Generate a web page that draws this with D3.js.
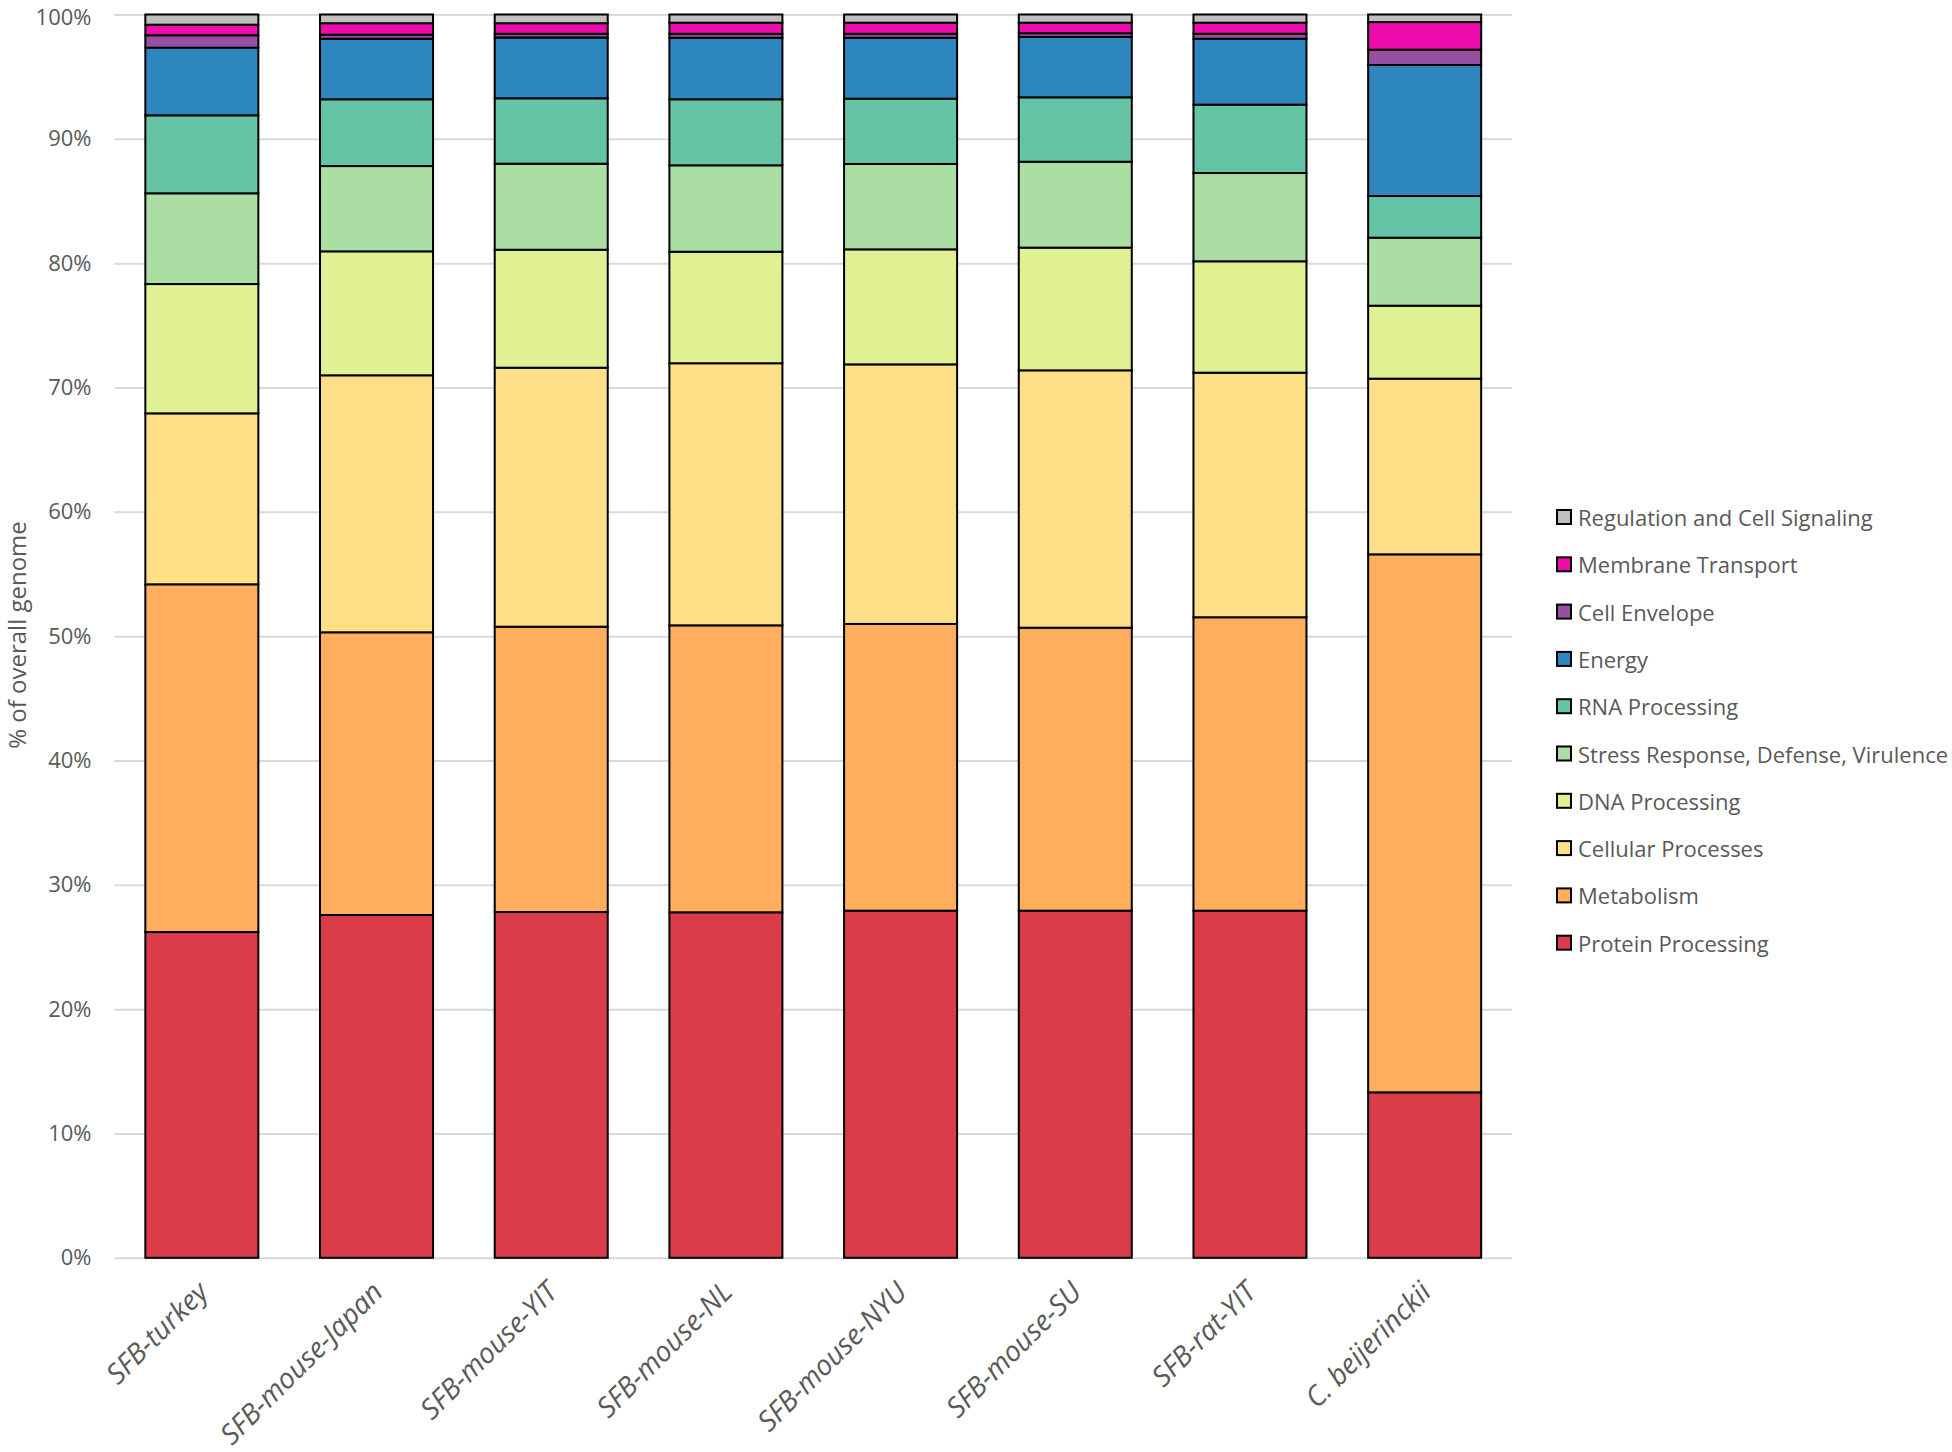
<!DOCTYPE html>
<html>
<head>
<meta charset="utf-8">
<script src="https://cdn.jsdelivr.net/npm/d3@7"></script>
<style>
  html, body { margin: 0; padding: 0; background: #fff; }
  svg { display: block; }
  text { font-family: "Open Sans", "Noto Sans", sans-serif; fill: #595959; }
</style>
</head>
<body>
<svg id="chart" width="1952" height="1452"></svg>
<script>
const categories = ["SFB-turkey", "SFB-mouse-Japan", "SFB-mouse-YIT", "SFB-mouse-NL", "SFB-mouse-NYU", "SFB-mouse-SU", "SFB-rat-YIT", "C. beijerinckii"];

const seriesNames = ["Protein Processing", "Metabolism", "Cellular Processes", "DNA Processing",
  "Stress Response, Defense, Virulence", "RNA Processing", "Energy", "Cell Envelope",
  "Membrane Transport", "Regulation and Cell Signaling"];

const proteinProcessing   = [26.20, 27.57, 27.81, 27.79, 27.92, 27.92, 27.92, 13.31];
const metabolism          = [27.97, 22.74, 22.95, 23.08, 23.06, 22.76, 23.60, 43.27];
const cellularProcesses   = [13.75, 20.67, 20.83, 21.08, 20.88, 20.70, 19.67, 14.13];
const dnaProcessing       = [10.40,  9.97,  9.49,  8.97,  9.25,  9.87,  8.96,  5.87];
const stressResponse      = [ 7.30,  6.86,  6.92,  6.95,  6.87,  6.91,  7.10,  5.47];
const rnaProcessing       = [ 6.27,  5.37,  5.26,  5.31,  5.25,  5.18,  5.50,  3.35];
const energy              = [ 5.44,  4.87,  4.89,  4.95,  4.90,  4.86,  5.30, 10.54];
const cellEnvelope        = [ 1.00,  0.33,  0.30,  0.32,  0.32,  0.30,  0.40,  1.23];
const membraneTransport   = [ 0.85,  0.92,  0.85,  0.89,  0.89,  0.84,  0.89,  2.22];
const regulationSignaling = [ 0.82,  0.70,  0.70,  0.66,  0.66,  0.66,  0.66,  0.61];

const yTicks = [0, 10, 20, 30, 40, 50, 60, 70, 80, 90, 100];

const seriesColors = ["#DA3C4A", "#FEAE5C", "#FDDF88", "#E0F193", "#ABDEA2",
  "#64C4A5", "#2E86BE", "#974FA2", "#EE0DAC", "#BFBFBF"];

const seriesValues = [proteinProcessing, metabolism, cellularProcesses, dnaProcessing,
  stressResponse, rnaProcessing, energy, cellEnvelope, membraneTransport, regulationSignaling];

// build table for d3.stack
const table = categories.map((c, i) => {
  const row = { category: c };
  seriesNames.forEach((s, j) => { row[s] = seriesValues[j][i]; });
  return row;
});

const svg = d3.select("#chart");
const plot = { left: 114.5, right: 1512, top: 14.5, bottom: 1257.8 };

const x = d3.scaleBand()
  .domain(categories)
  .range([plot.left, plot.right])
  .paddingInner(0.353)
  .paddingOuter(0.1765);

const y = d3.scaleLinear().domain([0, 100]).range([plot.bottom, plot.top]);

const color = d3.scaleOrdinal().domain(seriesNames).range(seriesColors);

// gridlines + y axis labels
const yAxis = d3.axisLeft(y)
  .tickValues(yTicks)
  .tickFormat(d => d + "%")
  .tickSize(-(plot.right - plot.left))
  .tickPadding(23);

const gy = svg.append("g")
  .attr("transform", `translate(${plot.left},0)`)
  .call(yAxis);
gy.select(".domain").remove();
gy.selectAll(".tick line").attr("stroke", "#D9D9D9").attr("stroke-width", 2);
gy.selectAll(".tick text")
  .attr("font-size", 22)
  .attr("fill", "#595959")
  .attr("y", d => d === 100 ? 3 : 0)
  .style("font-family", '"Open Sans", "Noto Sans", sans-serif');

// stacked bars
const stack = d3.stack().keys(seriesNames);
const stacked = stack(table);

svg.append("g")
  .selectAll("g")
  .data(stacked)
  .join("g")
  .attr("fill", d => color(d.key))
  .selectAll("rect")
  .data(d => d)
  .join("rect")
  .attr("x", d => x(d.data.category))
  .attr("width", x.bandwidth())
  .attr("y", d => y(d[1]))
  .attr("height", d => y(d[0]) - y(d[1]))
  .attr("stroke", "#000")
  .attr("stroke-width", 2);

// x axis labels (rotated, italic)
const gx = svg.append("g")
  .attr("transform", `translate(0,${plot.bottom})`)
  .call(d3.axisBottom(x).tickSize(0).tickPadding(0));
gx.select(".domain").remove();
gx.selectAll(".tick text")
  .attr("font-size", 28)
  .attr("font-style", "italic")
  .attr("fill", "#595959")
  .attr("text-anchor", "end")
  .attr("dy", null)
  .attr("y", null)
  .attr("transform", "translate(8,36) rotate(-45)")
  .style("font-family", '"Open Sans", "Noto Sans", sans-serif');

// y axis title
svg.append("text")
  .attr("transform", `translate(26,635) rotate(-90)`)
  .attr("text-anchor", "middle")
  .attr("font-size", 24)
  .attr("fill", "#595959")
  .text("% of overall genome");

// legend (reverse order, top = last series)
const legendNames = seriesNames.slice().reverse();
const legend = svg.append("g").attr("transform", "translate(1557,517)");
const items = legend.selectAll("g")
  .data(legendNames)
  .join("g")
  .attr("transform", (d, i) => `translate(0,${i * 47.3})`);
items.append("rect")
  .attr("x", 0).attr("y", -7)
  .attr("width", 14).attr("height", 14)
  .attr("fill", d => color(d))
  .attr("stroke", "#000").attr("stroke-width", 2);
items.append("text")
  .attr("x", 21)
  .attr("y", 0)
  .attr("dominant-baseline", "central")
  .attr("font-size", 22)
  .attr("fill", "#595959")
  .text(d => d);
</script>
</body>
</html>
